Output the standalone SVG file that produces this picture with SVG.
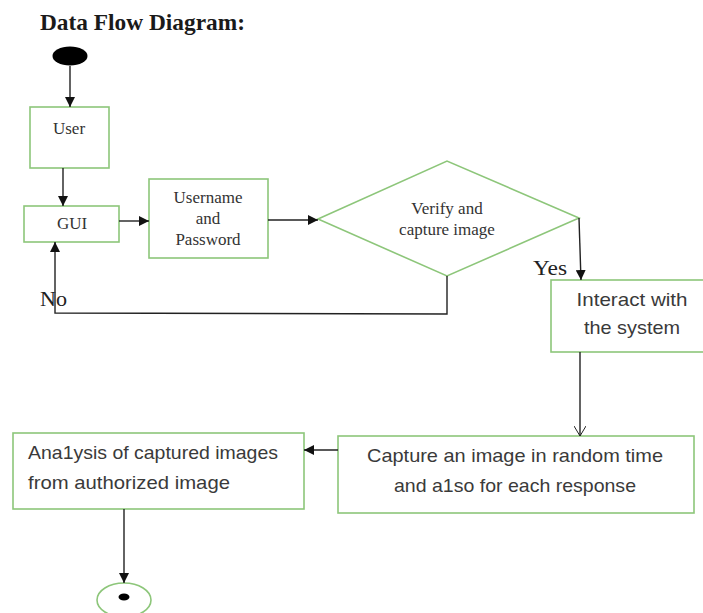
<svg xmlns="http://www.w3.org/2000/svg" width="703" height="613" viewBox="0 0 703 613">
<style>
.box{fill:#fff;stroke:#8dc67a;stroke-width:1.6}
.ser{font-family:"Liberation Serif",serif;fill:#333;font-size:17px;text-anchor:middle}
.san{font-family:"Liberation Sans",sans-serif;fill:#3a3a3a;font-size:19px}
.ln{fill:none;stroke:#222;stroke-width:1.4}
</style>
<defs>
<marker id="ah" viewBox="0 0 10 10" refX="10" refY="5" markerWidth="10" markerHeight="10" markerUnits="userSpaceOnUse" orient="auto"><path d="M0,0 L10,5 L0,10 z" fill="#111"/></marker>
<marker id="open" viewBox="0 0 10 12" refX="10" refY="6" markerWidth="10" markerHeight="12" markerUnits="userSpaceOnUse" orient="auto"><path d="M0,0 L10,6 L0,12" fill="none" stroke="#222" stroke-width="1"/></marker>
</defs>
<rect width="703" height="613" fill="#fff"/>
<text x="40" y="30" font-family="Liberation Serif,serif" font-weight="bold" font-size="23" fill="#1a1a1a" textLength="205" lengthAdjust="spacingAndGlyphs">Data Flow Diagram:</text>
<g id="start"><ellipse cx="70" cy="56" rx="17.5" ry="9.5" fill="#000"/></g>
<g id="user"><rect class="box" x="30" y="107" width="79" height="61"/><text class="ser" x="69" y="134">User</text></g>
<g id="gui"><rect class="box" x="24" y="206" width="95" height="36"/><text class="ser" x="72" y="229">GUI</text></g>
<g id="cred"><rect class="box" x="149" y="179" width="119" height="79"/><text class="ser" x="208" y="203">Username</text><text class="ser" x="208" y="224">and</text><text class="ser" x="208" y="245">Password</text></g>
<g id="verify"><polygon class="box" points="318,219 447,161 579,218 447,276"/><text class="ser" x="447" y="214">Verify and</text><text class="ser" x="447" y="235">capture image</text></g>
<g id="interact"><rect class="box" x="551" y="280" width="160" height="72"/><text class="san" x="632" y="306" text-anchor="middle" textLength="111" lengthAdjust="spacingAndGlyphs">Interact with</text><text class="san" x="632" y="334" text-anchor="middle" textLength="96" lengthAdjust="spacingAndGlyphs">the system</text></g>
<g id="capture"><rect class="box" x="338" y="436" width="356" height="77"/><text class="san" x="515" y="462" text-anchor="middle" textLength="296" lengthAdjust="spacingAndGlyphs">Capture an image in random time</text><text class="san" x="515" y="492" text-anchor="middle" textLength="242" lengthAdjust="spacingAndGlyphs">and a1so for each response</text></g>
<g id="analysis"><rect class="box" x="13" y="433" width="291" height="76"/><text class="san" x="28" y="459" textLength="250" lengthAdjust="spacingAndGlyphs">Ana1ysis of captured images</text><text class="san" x="28" y="489" textLength="202" lengthAdjust="spacingAndGlyphs">from authorized image</text></g>
<g id="end"><ellipse cx="124" cy="600" rx="27" ry="17" fill="#fff" stroke="#8dc67a" stroke-width="1.6"/><ellipse cx="124" cy="597" rx="5.5" ry="3.5" fill="#000"/></g>
<g id="connectors">
<line class="ln" x1="70" y1="66" x2="70" y2="107" marker-end="url(#ah)"/>
<line class="ln" x1="63" y1="168" x2="63" y2="206" marker-end="url(#ah)"/>
<line class="ln" x1="119" y1="221" x2="149" y2="221" marker-end="url(#ah)"/>
<line class="ln" x1="268" y1="220" x2="318" y2="220" marker-end="url(#ah)"/>
<polyline class="ln" points="579,218 581,280" marker-end="url(#ah)"/>
<polyline class="ln" points="447,276 447,314 55,313 55,242" marker-end="url(#ah)"/>
<line class="ln" x1="580" y1="352" x2="580" y2="436" marker-end="url(#open)"/>
<line class="ln" x1="338" y1="450" x2="304" y2="450" marker-end="url(#ah)"/>
<line class="ln" x1="124" y1="509" x2="124" y2="583" marker-end="url(#ah)"/>
<text x="533" y="275" font-family="Liberation Serif,serif" font-size="21" fill="#222" textLength="34" lengthAdjust="spacingAndGlyphs">Yes</text>
<text x="40" y="306" font-family="Liberation Serif,serif" font-size="21" fill="#222" textLength="27" lengthAdjust="spacingAndGlyphs">No</text>
</g>
</svg>
